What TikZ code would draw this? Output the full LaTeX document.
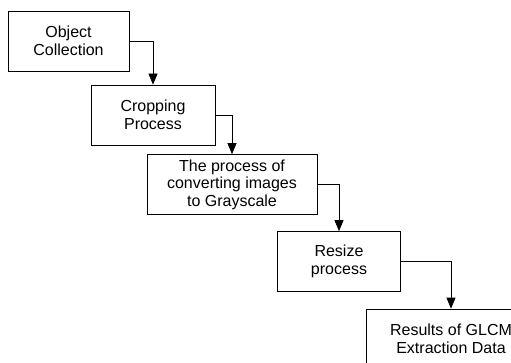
\documentclass[tikz,border=0pt]{standalone}
\usepackage{fontspec}
\setmainfont{Liberation Sans}
\usetikzlibrary{arrows.meta, positioning}

\begin{document}
\begin{tikzpicture}[x=1pt, y=-1pt,
    procbox/.style={draw, line width=0.7pt, rectangle, minimum height=60pt,
      align=center, inner sep=0pt, font=\fontsize{16}{17.5}\selectfont},
    flow/.style={line width=0.7pt, -{Triangle[length=11pt, width=9pt]}}]
  \useasboundingbox (0,0) rectangle (511,363);
  \clip (0,0) rectangle (511,363);
  \foreach \name/\cx/\cy/\w/\label in {
    collect/68.5/41/121/Object\\Collection,
    crop/153/115/124/Cropping\\Process,
    gray/232/184.5/170/The process of\\converting images\\to Grayscale,
    resize/339/261.5/123/Resize\\process,
    glcm/451/339/170/Results of GLCM\\Extraction Data}{
    \node[procbox, minimum width=\w pt] (\name) at (\cx,\cy) {\label};
  }
  \foreach \a/\b in {collect/crop, crop/gray, gray/resize, resize/glcm}
    \draw[flow] (\a.east) -| (\b.north);
\end{tikzpicture}
\end{document}
